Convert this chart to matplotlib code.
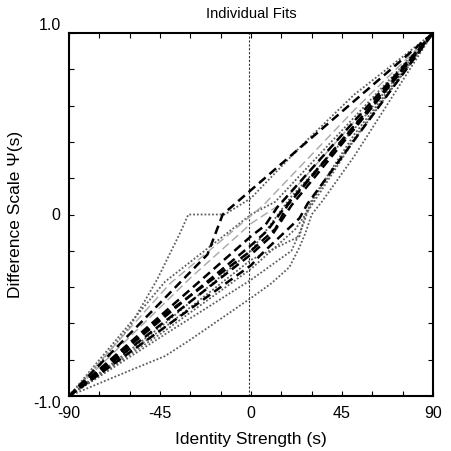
import matplotlib
matplotlib.use("Agg")
import matplotlib.pyplot as plt
from matplotlib.ticker import MultipleLocator

plt.rcParams['font.family'] = ['Liberation Sans', 'DejaVu Sans']

# ---- data: individual fitted curves (identity strength s, difference scale) ----
k1_s = [-90, -21.5, -14, 90]
k1_v = [-1, -0.22, 0.0, 1]
k2_s = [-90, 0, 7, 13, 90]
k2_v = [-1, -0.12, -0.06, 0.04, 1]
k3_s = [-90, 0, 8, 16, 90]
k3_v = [-1, -0.17, -0.09, 0.03, 1]
k4_s = [-90, 0, 10, 20, 90]
k4_v = [-1, -0.22, -0.12, 0.05, 1]
k5_s = [-90, 0, 5, 24, 28, 90]
k5_v = [-1, -0.28, -0.22, -0.02, 0.06, 1]
k6_s = [-90, -42.5, 0, 12, 18, 90]
k6_v = [-1, -0.55, -0.2, -0.08, 0.05, 1]

g1_s = [-90, -75, -60, -46.5, -35, -31, -13, 0, 25, 51, 90]
g1_v = [-1, -0.82, -0.62, -0.36, -0.1, 0.0, 0.0, 0.09, 0.38, 0.66, 1]
g2_s = [-90, -42.5, 0, 12, 90]
g2_v = [-1, -0.37, 0.0, 0.07, 1]
g3_s = [-90, -42.5, 0, 24, 27, 33, 51, 90]
g3_v = [-1, -0.62, -0.25, -0.12, 0.01, 0.12, 0.42, 1]
g4_s = [-90, -60, -42.5, -30, 0, 10, 19, 24, 27, 30, 35, 51, 90]
g4_v = [-1, -0.86, -0.78, -0.69, -0.46, -0.38, -0.29, -0.18, -0.1, 0.0, 0.07, 0.32, 1]
g5_s = [-90, -42.5, 0, 20, 26, 30, 51, 90]
g5_v = [-1, -0.66, -0.36, -0.2, -0.05, 0.08, 0.44, 1]
g6_s = [-90, -42.5, 0, 10, 20, 51, 90]
g6_v = [-1, -0.6, -0.2, -0.05, 0.1, 0.47, 1]
g7_s = [-90, -42.5, 0, 22, 30, 51, 90]
g7_v = [-1, -0.64, -0.3, -0.08, 0.05, 0.41, 1]

l1_s = [-90, -40, -10, 6, 51, 90]
l1_v = [-1, -0.38, -0.1, 0.05, 0.575, 1]
l2_s = [-90, -30, 0, 15, 90]
l2_v = [-1, -0.35, -0.05, 0.06, 1]

black_curves = [(k1_s, k1_v), (k2_s, k2_v), (k3_s, k3_v), (k4_s, k4_v), (k5_s, k5_v), (k6_s, k6_v)]
dotted_curves = [(g1_s, g1_v), (g2_s, g2_v), (g3_s, g3_v), (g4_s, g4_v), (g5_s, g5_v),
                 (g6_s, g6_v), (g7_s, g7_v)]
light_curves = [(l1_s, l1_v), (l2_s, l2_v)]

ref_s = -1  # vertical reference line

x_ticks = [-90, -45, 0, 45, 90]
x_labels = ['-90', '-45', '0', '45', '90']
y_ticks = [-1, 0, 1]
y_labels = ['-1.0', '0', '1.0']

fig = plt.figure(figsize=(4.52, 4.51), dpi=100)
ax = fig.add_axes([69/452, 1-396/451, 364/452, 363/451])

ax.axvline(ref_s, color='#333333', lw=0.8, ls=(0, (2, 1.5)), zorder=1)

for s, v in dotted_curves:
    ax.plot(s, v, color='#5e5e5e', lw=1.3, ls=(0, (1, 1.1)), zorder=2)
for s, v in light_curves:
    ax.plot(s, v, color='#a8a8a8', lw=1.0, ls=(0, (6, 3)), zorder=2)
for s, v in black_curves:
    ax.plot(s, v, color='black', lw=1.8, ls=(0, (3.5, 2)), zorder=3)

ax.set_xlim(-90, 90)
ax.set_ylim(-1, 1)
ax.set_xticks(x_ticks, labels=x_labels)
ax.set_yticks(y_ticks, labels=y_labels)
ax.xaxis.set_minor_locator(MultipleLocator(15))
ax.yaxis.set_minor_locator(MultipleLocator(0.2))
ax.tick_params(which='both', direction='in', top=True, right=True, length=3.5, width=0.8)
ax.tick_params(axis='x', labelsize=11.5, pad=7)
ax.tick_params(axis='y', labelsize=11.5, pad=6)
ylab = ax.get_yticklabels()
ylab[0].set_va('top')
ylab[2].set_va('bottom')
for sp in ax.spines.values():
    sp.set_linewidth(1.5)

ax.set_xlabel('Identity Strength (s)', fontsize=12.5, labelpad=8)
ax.set_ylabel('Difference Scale \u03a8(s)', fontsize=12.5, labelpad=7)
ax.set_title('Individual Fits', fontsize=10.5, pad=11)

fig.savefig('out.png', dpi=100)
